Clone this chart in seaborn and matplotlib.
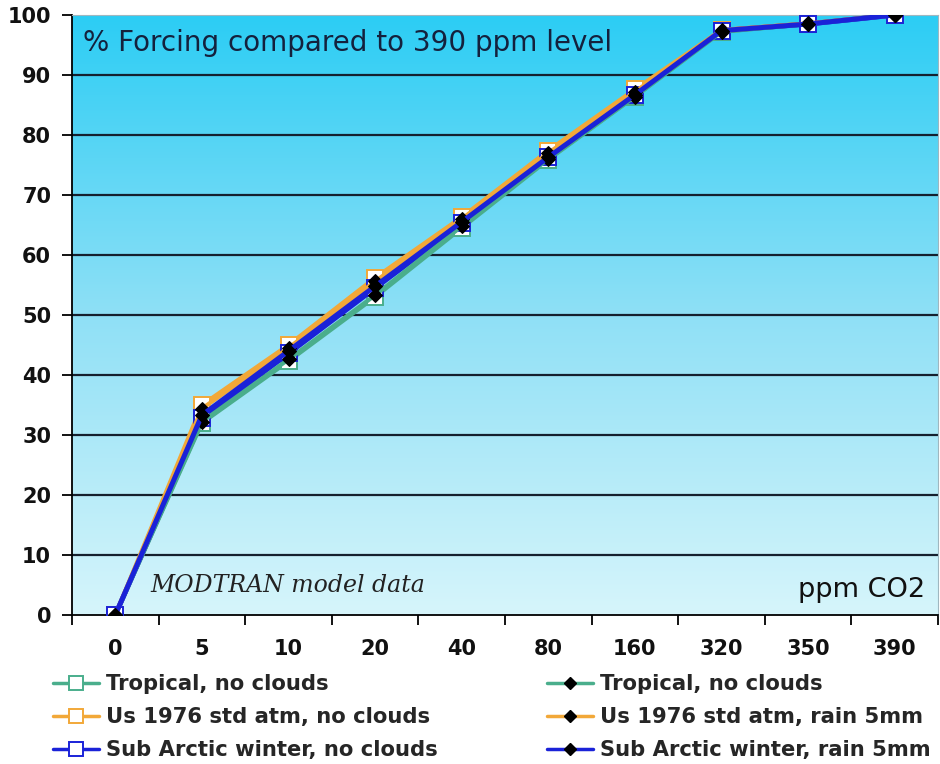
import numpy as np
import pandas as pd
import seaborn as sns
import matplotlib.pyplot as plt
from matplotlib.colors import LinearSegmentedColormap
from matplotlib.lines import Line2D

ppm = ['0', '5', '10', '20', '40', '80', '160', '320', '350', '390']

tropical_nc = [0, 32.0, 42.3, 53.0, 64.5, 75.9, 86.4, 97.2, 98.5, 100]
us_nc = [0, 35.0, 45.0, 56.2, 66.3, 77.4, 87.6, 97.5, 98.6, 100]
subarctic_nc = [0, 32.8, 43.6, 54.5, 65.3, 76.3, 86.7, 97.4, 98.5, 100]

tropical_rain = [0, 32.2, 42.6, 53.3, 64.8, 76.0, 86.4, 97.2, 98.5, 100]
us_rain = [0, 34.4, 44.5, 55.6, 66.0, 77.0, 87.2, 97.5, 98.6, 100]
subarctic_rain = [0, 33.3, 44.0, 54.8, 65.5, 76.3, 86.7, 97.4, 98.5, 100]

names = ['Tropical, no clouds', 'Us 1976 std atm, no clouds', 'Sub Arctic winter, no clouds',
         'Tropical, no clouds', 'Us 1976 std atm, rain 5mm', 'Sub Arctic winter, rain 5mm']
colors = ['#4aae8c', '#f2a838', '#1a22d8']
widths = [3.0, 3.0, 3.6]

sns.set_style('white')
plt.rcParams['font.family'] = ['DejaVu Sans']

fig = plt.figure(figsize=(9.4, 7.64), dpi=100)
ax = fig.add_axes([72 / 940, 149 / 764, 866 / 940, 600 / 764])

# gradient background
cmap = LinearSegmentedColormap.from_list('bg', ['#d6f5fb', '#8fe0f6', '#2ccdf4'])
grad = np.linspace(0, 1, 256).reshape(-1, 1)
ax.imshow(grad, cmap=cmap, origin='lower', aspect='auto',
          extent=[-0.5, 9.5, 0, 100], zorder=0)

for v in range(10, 100, 10):
    ax.axhline(v, color='#15202e', lw=1.6, zorder=1)

nc_series = [tropical_nc, us_nc, subarctic_nc]
rain_series = [tropical_rain, us_rain, subarctic_rain]

for vals, c, w in zip(nc_series, colors, widths):
    df = pd.DataFrame({'ppm': ppm, 'val': vals})
    sns.lineplot(data=df, x='ppm', y='val', sort=False, ax=ax, color=c, lw=w,
                 marker='s', markersize=12, markerfacecolor='white',
                 markeredgecolor=c, markeredgewidth=1.4, zorder=3)

for vals, c, w in zip(rain_series, colors, widths):
    df = pd.DataFrame({'ppm': ppm, 'val': vals})
    sns.lineplot(data=df, x='ppm', y='val', sort=False, ax=ax, color=c, lw=w,
                 marker='D', markersize=7, markerfacecolor='black',
                 markeredgecolor='black', zorder=4)

ax.set_xlim(-0.5, 9.5)
ax.set_ylim(0, 100)
ax.set_yticks(range(0, 101, 10))
ax.set_xlabel('')
ax.set_ylabel('')
ax.set_xticks(np.arange(-0.5, 10, 1), minor=True)
ax.tick_params(axis='x', which='major', bottom=True, length=0, pad=17)
ax.tick_params(axis='x', which='minor', bottom=True, length=7, width=1.3,
               color='black', direction='out')
ax.tick_params(axis='y', left=True, length=7, width=1.3, color='black',
               direction='out', pad=8)
for lab in ax.get_xticklabels() + ax.get_yticklabels():
    lab.set_fontsize(15)
    lab.set_fontweight('bold')
    lab.set_color('#111111')

ax.spines['left'].set_color('black')
ax.spines['bottom'].set_color('black')
ax.spines['left'].set_linewidth(1.3)
ax.spines['bottom'].set_linewidth(1.3)
ax.spines['top'].set_color('#9fb7c0')
ax.spines['right'].set_color('#9fb7c0')

ax.text(0.013, 0.953, '% Forcing compared to 390 ppm level', transform=ax.transAxes,
        fontsize=20, color='#14213d', va='center', ha='left')
ax.text(0.985, 0.042, 'ppm CO2', transform=ax.transAxes,
        fontsize=19.5, color='#111111', va='center', ha='right')
ax.text(0.091, 0.05, 'MODTRAN model data', transform=ax.transAxes,
        fontsize=17, style='italic', family='DejaVu Serif', color='#222222',
        va='center', ha='left')

handles = []
for i, c in enumerate(colors + colors):
    if i < 3:
        h = Line2D([], [], color=c, lw=2.5, marker='s', markersize=10,
                   markerfacecolor='white', markeredgecolor=c, markeredgewidth=1.4)
    else:
        h = Line2D([], [], color=c, lw=2.5, marker='D', markersize=6,
                   markerfacecolor='black', markeredgecolor='black')
    handles.append(h)

kw = dict(frameon=False, handlelength=2.2, handletextpad=0.3, labelspacing=0.62,
          prop={'size': 15.2, 'weight': 'bold'})
fig.legend(handles[:3], names[:3], loc='upper left',
           bbox_to_anchor=(34 / 940, 1 - 655 / 764), **kw)
fig.legend(handles[3:], names[3:], loc='upper left',
           bbox_to_anchor=(528 / 940, 1 - 655 / 764), **kw)

fig.savefig('out.png', dpi=100)
